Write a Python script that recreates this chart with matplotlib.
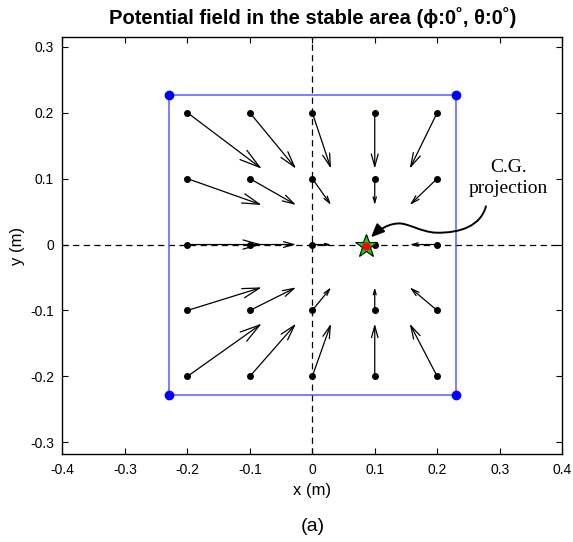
import numpy as np
import matplotlib
matplotlib.use("Agg")
import matplotlib.pyplot as plt
from matplotlib.patches import FancyArrowPatch
from matplotlib.path import Path

# grid of sample points (m)
xs = [-0.2, -0.1, 0.0, 0.1, 0.2]
ys = [0.2, 0.1, 0.0, -0.1, -0.2]

# field vectors, rows follow ys, columns follow xs
U = [[0.119, 0.074, 0.030, 0.0, -0.044],
     [0.119, 0.074, 0.030, 0.0, -0.044],
     [0.119, 0.074, 0.030, 0.0, -0.044],
     [0.119, 0.074, 0.030, 0.0, -0.044],
     [0.119, 0.074, 0.030, 0.0, -0.044]]
V = [[-0.085, -0.085, -0.085, -0.085, -0.085],
     [-0.040, -0.040, -0.040, -0.040, -0.040],
     [0.0, 0.0, 0.0, 0.0, 0.0],
     [0.035, 0.035, 0.035, 0.035, 0.035],
     [0.080, 0.080, 0.080, 0.080, 0.080]]

# stable area (support polygon)
area_x = [-0.23, 0.23, 0.23, -0.23, -0.23]
area_y = [0.227, 0.227, -0.228, -0.228, 0.227]

cg = (0.086, -0.002)

plt.rcParams['font.family'] = ['Liberation Sans', 'DejaVu Sans']

fig = plt.figure(figsize=(5.73, 5.42), dpi=100)
ax = fig.add_axes([0.109, 0.162, 0.872, 0.770])
ax.set_xlim(-0.4, 0.4)
ax.set_ylim(-0.318, 0.315)

ax.axhline(0, color='k', ls=(0, (5, 3.5)), lw=0.9, zorder=1)
ax.axvline(0, color='k', ls=(0, (5, 3.5)), lw=0.9, zorder=1)

ax.plot(area_x, area_y, color='#5a5aff', lw=1.1, zorder=2)
ax.plot(area_x[:4], area_y[:4], 'o', color='#0000ff', ms=6, zorder=3)

for i, y in enumerate(ys):
    for j, x in enumerate(xs):
        u = U[i][j]
        v = V[i][j]
        if u != 0 or v != 0:
            p0 = ax.transData.transform((x, y))
            p1 = ax.transData.transform((x + u, y + v))
            L = np.hypot(*(p1 - p0)) * 72 / fig.dpi
            hl = max(0.22 * L, 3.0)
            ax.annotate('', xy=(x + u, y + v), xytext=(x, y),
                        arrowprops=dict(arrowstyle='->,head_length=%.2f,head_width=%.2f' % (hl, 0.28 * hl),
                                        mutation_scale=1, color='k', lw=0.9,
                                        shrinkA=0, shrinkB=0),
                        zorder=4)
        ax.plot(x, y, 'o', color='k', ms=4, zorder=5)

ax.plot(cg[0], cg[1], marker='*', ms=17, mfc='#00e000', mec='k', mew=0.8, zorder=6)
ax.plot(cg[0], cg[1], 'o', color='red', ms=5, zorder=7)

ax.text(0.314, 0.101, 'C.G.\nprojection', family=['Liberation Serif', 'DejaVu Serif'],
        fontsize=14, ha='center', va='center', linespacing=1.3)

# wavy pointer from the label to the star
verts = [(0.278, 0.058), (0.270, 0.029), (0.238, 0.017), (0.198, 0.018),
         (0.174, 0.019), (0.155, 0.032), (0.139, 0.032),
         (0.123, 0.032), (0.107, 0.023), (0.094, 0.011)]
codes = [Path.MOVETO] + [Path.CURVE4] * 9
pointer = FancyArrowPatch(path=Path(verts, codes),
                          arrowstyle='-|>,head_length=8,head_width=3.5',
                          color='k', lw=1.4, zorder=8)
ax.add_patch(pointer)

ax.set_xticks(np.arange(-0.4, 0.41, 0.1))
ax.set_yticks(np.arange(-0.3, 0.31, 0.1))
ax.set_xticklabels(['-0.4', '-0.3', '-0.2', '-0.1', '0', '0.1', '0.2', '0.3', '0.4'])
ax.set_yticklabels(['-0.3', '-0.2', '-0.1', '0', '0.1', '0.2', '0.3'])
ax.tick_params(direction='in', top=True, right=True, labelsize=10, length=4,
               width=0.8, pad=6)
for s in ax.spines.values():
    s.set_linewidth(1.0)

ax.set_xlabel('x (m)', fontsize=12, labelpad=5)
ax.set_ylabel('y (m)', fontsize=12, labelpad=4)
ax.set_title('Potential field in the stable area (\u03d5:0\u02da, \u03b8:0\u02da)',
             fontsize=14.5, fontweight='bold', pad=9)

fig.text(0.546, 0.028, '(a)', fontsize=14, ha='center', va='center')

fig.savefig('out.png', dpi=100)
